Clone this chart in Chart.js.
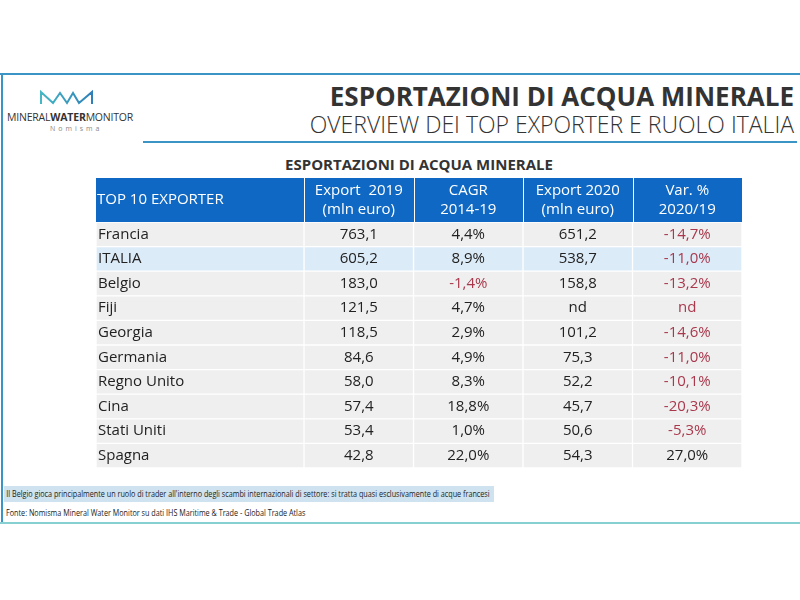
<!DOCTYPE html>
<html>
<head>
<meta charset="utf-8">
<script src="https://cdn.jsdelivr.net/npm/chart.js@4.4.0/dist/chart.umd.min.js"></script>
<style>
  html, body { margin: 0; padding: 0; background: #fff; }
  #page { position: relative; width: 800px; height: 600px; overflow: hidden; font-family: 'Open Sans', sans-serif; }
  .abs { position: absolute; }
  #title { right: 6px; top: 78px; font-size: 26px; font-weight: 700; color: #333; white-space: nowrap; }
  #subtitle { right: 6px; top: 108px; font-size: 23px; font-weight: 300; color: #333; white-space: nowrap; }
  #tableTitle { left: 96px; width: 646px; top: 154px; text-align: center; font-size: 15px; font-weight: 700; color: #333; }
  #note { left: 4px; top: 486px; width: 490px; height: 16px; background: #cfe2ef; font-size: 9.5px; line-height: 16px; }
  #note span, #source span { display: inline-block; transform: scaleX(0.76); transform-origin: left center; font-size: 9.5px; color: #222; white-space: nowrap; vertical-align: top; }
  #note span { line-height: 16px; padding-left: 3px; }
  #source { left: 6px; top: 506px; font-size: 9.5px; line-height: 13px; height: 13px; }
  #source span { line-height: 13px; }
  #brand { left: 7px; top: 110px; font-size: 10.5px; color: #333; letter-spacing: -0.2px; white-space: nowrap; }
  #nomisma { left: 50px; top: 124px; font-size: 7px; color: #888; letter-spacing: 3px; }
</style>
</head>
<body>
<div id="page">
  <div class="abs" style="left:0;top:73px;width:800px;height:2px;background:#3a94c6"></div>
  <div class="abs" style="left:1px;top:73px;width:2px;height:450px;background:#3a94c6"></div>
  <div class="abs" style="left:0;top:522px;width:800px;height:2px;background:#86d0d2"></div>
  <div class="abs" style="left:143px;top:141px;width:654px;height:2px;background:#3a94c6"></div>

  <svg class="abs" style="left:0;top:0" width="140" height="110">
    <defs>
      <linearGradient id="lg" x1="0" x2="1" y1="0" y2="0">
        <stop offset="0" stop-color="#45b8c4"/>
        <stop offset="1" stop-color="#2f7fb9"/>
      </linearGradient>
    </defs>
    <polyline points="41,104 41,92 53,103 60,93 67,103 73,93 79,103 92,92 92,104"
      fill="none" stroke="url(#lg)" stroke-width="2"/>
  </svg>
  <div id="brand" class="abs">MINERAL<b>WATER</b>MONITOR</div>
  <div id="nomisma" class="abs">Nomisma</div>

  <div id="title" class="abs">ESPORTAZIONI DI ACQUA MINERALE</div>
  <div id="subtitle" class="abs">OVERVIEW DEI TOP EXPORTER E RUOLO ITALIA</div>
  <div id="tableTitle" class="abs">ESPORTAZIONI DI ACQUA MINERALE</div>

  <div class="abs" style="left:96px;top:178px;width:646px;height:290px">
    <canvas id="myChart"></canvas>
  </div>

  <div id="note" class="abs"><span>Il Belgio gioca principalmente un ruolo di trader all'interno degli scambi internazionali di settore: si tratta quasi esclusivamente di acque francesi</span></div>
  <div id="source" class="abs"><span>Fonte: Nomisma Mineral Water Monitor su dati IHS Maritime &amp; Trade - Global Trade Atlas</span></div>
</div>

<script>
  //data block
  const countries = ['Francia', 'ITALIA', 'Belgio', 'Fiji', 'Georgia', 'Germania', 'Regno Unito', 'Cina', 'Stati Uniti', 'Spagna'];
  const export2019 = [763.1, 605.2, 183.0, 121.5, 118.5, 84.6, 58.0, 57.4, 53.4, 42.8];
  const cagr2014_19 = [4.4, 8.9, -1.4, 4.7, 2.9, 4.9, 8.3, 18.8, 1.0, 22.0];
  const export2020 = [651.2, 538.7, 158.8, null, 101.2, 75.3, 52.2, 45.7, 50.6, 54.3];
  const var2020_19 = [-14.7, -11.0, -13.2, null, -14.6, -11.0, -10.1, -20.3, -5.3, 27.0];
  const headers = [
    ['TOP 10 EXPORTER'],
    ['Export  2019', '(mln euro)'],
    ['CAGR', '2014-19'],
    ['Export 2020', '(mln euro)'],
    ['Var. %', '2020/19']
  ];

  // column edges on the x scale (first column is wider)
  const colEdges = [0, 1.9, 2.9, 3.9, 4.9, 5.9];
  const headerHeight = 44;
  const red = '#a9384c';
  const textColor = '#222';

  const fmt = (v, pct) => v === null ? 'nd' : v.toFixed(1).replace('.', ',') + (pct ? '%' : '');

  const columns = [
    countries.map(c => ({ text: c, neg: false })),
    export2019.map(v => ({ text: fmt(v, false), neg: false })),
    cagr2014_19.map(v => ({ text: fmt(v, true), neg: v !== null && v < 0 })),
    export2020.map(v => ({ text: fmt(v, false), neg: false })),
    var2020_19.map(v => ({ text: fmt(v, true), neg: v === null || v < 0 }))
  ];

  //cells: one floating bar dataset per column
  const datasets = headers.map((h, i) => ({
    data: countries.map(() => [colEdges[i], colEdges[i + 1]]),
    backgroundColor: ctx => countries[ctx.dataIndex] === 'ITALIA' ? '#dcebf8' : '#efefef',
    borderColor: '#ffffff',
    borderWidth: 1,
    borderSkipped: false,
    grouped: false,
    categoryPercentage: 1,
    barPercentage: 1
  }));

  const tableText = {
    id: 'tableText',
    afterDatasetsDraw(chart) {
      const {ctx, chartArea: {top}, scales: {x, y}} = chart;
      ctx.save();

      // header row
      const left = x.getPixelForValue(colEdges[0]);
      const right = x.getPixelForValue(colEdges[colEdges.length - 1]);
      ctx.fillStyle = '#0f68c4';
      ctx.fillRect(left, 0, right - left, top);
      ctx.fillStyle = '#ffffff';
      for (let i = 1; i < colEdges.length - 1; i++) {
        ctx.fillRect(Math.round(x.getPixelForValue(colEdges[i])), 0, 1, top);
      }
      ctx.font = '15px "Open Sans"';
      ctx.textBaseline = 'middle';
      headers.forEach((lines, i) => {
        if (i === 0) {
          ctx.textAlign = 'left';
          ctx.fillText(lines[0], left + 1, top / 2);
        } else {
          ctx.textAlign = 'center';
          const cx = (x.getPixelForValue(colEdges[i]) + x.getPixelForValue(colEdges[i + 1])) / 2;
          ctx.fillText(lines[0], cx, top / 2 - 9);
          ctx.fillText(lines[1], cx, top / 2 + 10);
        }
      });

      // body rows
      ctx.font = '15px "Open Sans"';
      columns.forEach((col, i) => {
        col.forEach((cell, r) => {
          const cy = y.getPixelForValue(r);
          ctx.fillStyle = cell.neg ? red : textColor;
          if (i === 0) {
            ctx.textAlign = 'left';
            ctx.fillText(cell.text, left + 2, cy);
          } else {
            ctx.textAlign = 'center';
            const cx = (x.getPixelForValue(colEdges[i]) + x.getPixelForValue(colEdges[i + 1])) / 2;
            ctx.fillText(cell.text, cx, cy);
          }
        });
      });
      ctx.restore();
    }
  };

  //config block
  const config = {
    type: 'bar',
    data: { labels: countries, datasets },
    options: {
      indexAxis: 'y',
      responsive: true,
      maintainAspectRatio: false,
      animation: false,
      layout: { padding: { top: headerHeight, left: 0, right: 0, bottom: 0 } },
      scales: {
        x: { type: 'linear', min: colEdges[0], max: colEdges[colEdges.length - 1], display: false },
        y: { type: 'category', display: false }
      },
      plugins: {
        legend: { display: false },
        tooltip: { enabled: false }
      }
    },
    plugins: [tableText]
  };

  const myChart = new Chart(document.getElementById('myChart'), config);
</script>
</body>
</html>
